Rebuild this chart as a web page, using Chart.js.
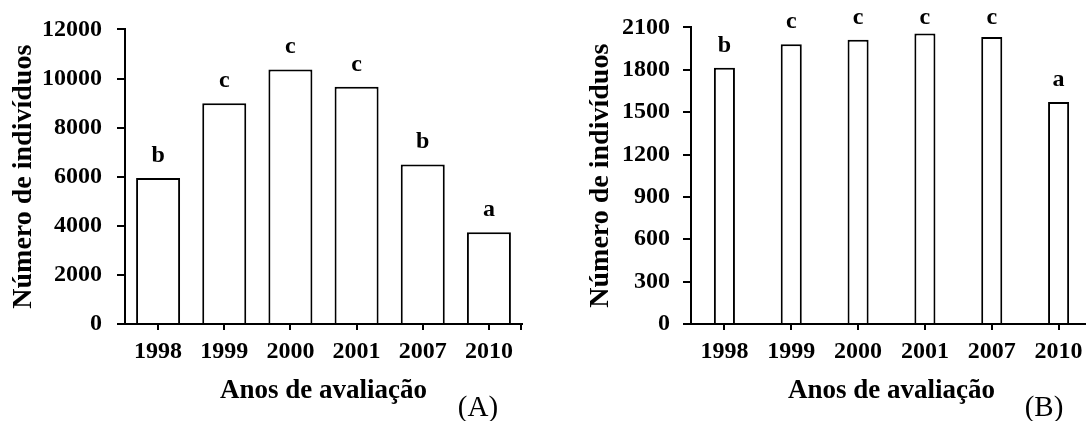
<!DOCTYPE html>
<html>
<head>
<meta charset="utf-8">
<script src="https://cdn.jsdelivr.net/npm/chart.js@4/dist/chart.umd.min.js"></script>
<style>
  html, body { margin: 0; padding: 0; background: #fff; overflow: hidden; }
  body { width: 1086px; height: 421px; position: relative; }
  .painel { position: absolute; top: 0; height: 421px; }
  #painelA { left: 0; width: 545px; }
  #painelB { left: 546px; width: 560px; }
</style>
</head>
<body>
<div class="painel" id="painelA"><canvas id="graficoA" width="545" height="421"></canvas></div>
<div class="painel" id="painelB"><canvas id="graficoB" width="560" height="421"></canvas></div>
<script>
// dados
const anos = ["1998", "1999", "2000", "2001", "2007", "2010"];
const individuosA = [5950, 8990, 10370, 9660, 6500, 3740];
const letrasA = ["b", "c", "c", "c", "b", "a"];
const individuosB = [1814, 1980, 2013, 2056, 2032, 1571];
const letrasB = ["b", "c", "c", "c", "c", "a"];
const ticksA = { max: 12000, passo: 2000 };
const ticksB = { max: 2100, passo: 300 };

const fonte = '"Liberation Serif", "Times New Roman", serif';
Chart.defaults.font.family = fonte;
Chart.defaults.color = "#000";

// escreve as letras da comparação de médias acima das barras
const letrasPlugin = {
  id: "letras",
  afterDatasetsDraw(chart, args, opts) {
    const ctx = chart.ctx;
    const meta = chart.getDatasetMeta(0);
    ctx.save();
    ctx.font = "bold 24px " + fonte;
    ctx.fillStyle = "#000";
    ctx.textAlign = "center";
    ctx.textBaseline = "alphabetic";
    meta.data.forEach((bar, i) => {
      const y = Math.max(bar.y - 16, opts.minY);
      ctx.fillText(opts.labels[i], bar.x, y);
    });
    // marca no fim do eixo x
    const a = chart.chartArea;
    ctx.strokeStyle = "#000";
    ctx.lineWidth = 2;
    ctx.beginPath();
    ctx.moveTo(a.right - 1, a.bottom);
    ctx.lineTo(a.right - 1, a.bottom + 6);
    ctx.stroke();
    // rótulo do painel
    ctx.font = "29px " + fonte;
    ctx.textBaseline = "middle";
    ctx.fillText(opts.painel, opts.px, opts.py);
    ctx.restore();
  }
};

function desenhaGrafico(id, valores, letras, escala, cfg) {
  const ctx = document.getElementById(id).getContext("2d");
  new Chart(ctx, {
    type: "bar",
    data: {
      labels: anos,
      datasets: [{
        data: valores,
        backgroundColor: "#fff",
        borderColor: "#000",
        borderWidth: 2,
        borderSkipped: "start",
        categoryPercentage: 1,
        barPercentage: cfg.barra
      }]
    },
    options: {
      responsive: false,
      devicePixelRatio: 1,
      animation: false,
      events: [],
      layout: { padding: { top: 26, right: cfg.direita, bottom: 0, left: 0 } },
      plugins: {
        legend: { display: false },
        tooltip: { enabled: false },
        letras: { labels: letras, minY: cfg.minY, painel: cfg.painel, px: cfg.px, py: 408 }
      },
      scales: {
        x: {
          grid: { display: true, offset: false, drawOnChartArea: false, color: "#000", lineWidth: 2, tickLength: 6 },
          border: { color: "#000", width: 2, z: 1 },
          ticks: { font: { size: 24, weight: "bold" }, padding: 7, maxRotation: 0, autoSkip: false },
          title: { display: true, text: "Anos de avaliação", font: { size: 27, weight: "bold" }, padding: { top: 0, bottom: 14 } },
          afterFit: s => { s.height = 97; }
        },
        y: {
          min: 0,
          max: escala.max,
          grid: { drawOnChartArea: false, color: "#000", lineWidth: 2, tickLength: 8 },
          border: { color: "#000", width: 2 },
          ticks: { stepSize: escala.passo, font: { size: 24, weight: "bold" }, padding: cfg.tickPad, callback: v => String(v) },
          title: { display: true, text: "Número de indivíduos", font: { size: 28, weight: "bold" }, padding: { top: cfg.tituloY, bottom: 0 } },
          afterFit: s => { s.width = cfg.largY; }
        }
      }
    },
    plugins: [letrasPlugin]
  });
}

desenhaGrafico("graficoA", individuosA, letrasA, ticksA,
  { barra: 0.665, direita: 23, largY: 125, tickPad: 15, tituloY: 7, minY: 24, painel: "(A)", px: 478 });
desenhaGrafico("graficoB", individuosB, letrasB, ticksB,
  { barra: 0.315, direita: 14, largY: 145, tickPad: 13, tituloY: 38, minY: 24, painel: "(B)", px: 498 });
</script>
</body>
</html>
